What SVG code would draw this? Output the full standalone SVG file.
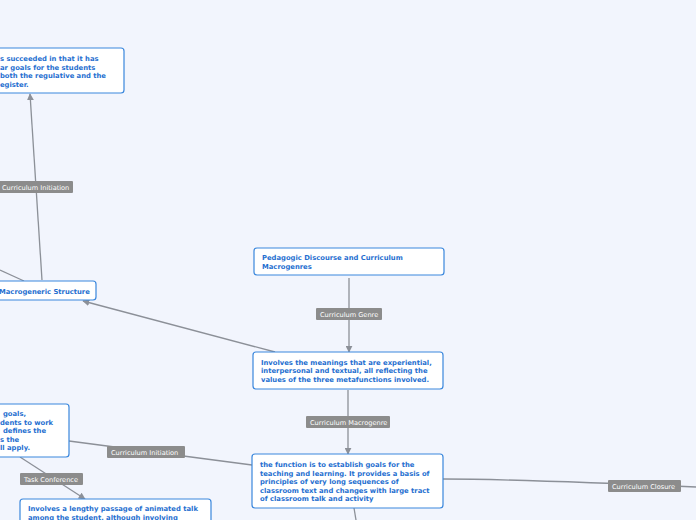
<svg xmlns="http://www.w3.org/2000/svg" width="696" height="520" viewBox="0 0 696 520">
<style>
.bg{fill:#f2f5fd}
.node rect{fill:#ffffff;stroke:#3a87dd;stroke-width:1.2}
.node text{font-family:"DejaVu Sans",Verdana,sans-serif;font-weight:bold;font-size:6.8px;fill:#1f6fd0}
.edge{fill:none;stroke:#8c9098;stroke-width:1.3}
.lbl rect{fill:#8c8c8c}
.lbl text{font-family:"DejaVu Sans",Verdana,sans-serif;font-size:6.6px;fill:#ffffff}
</style>
<defs>
<marker id="arr" viewBox="0 0 10 10" refX="9" refY="5" markerWidth="7" markerHeight="7" orient="auto" markerUnits="userSpaceOnUse">
<path d="M0,0 L10,5 L0,10 z" fill="#8c9098"/>
</marker>
</defs>
<rect class="bg" x="0" y="0" width="696" height="520"/>
<g id="connectors">
<path class="edge" d="M42,280 L30,94" marker-end="url(#arr)"/>
<path class="edge" d="M0,270 L24,281"/>
<path class="edge" d="M275,352 L83,301" marker-end="url(#arr)"/>
<path class="edge" d="M349,278 L349,352" marker-end="url(#arr)"/>
<path class="edge" d="M348,390 L348,454" marker-end="url(#arr)"/>
<path class="edge" d="M252,465 L69,441"/>
<path class="edge" d="M443,479 C500,479 560,481 696,487"/>
<path class="edge" d="M20,457 L85,499" marker-end="url(#arr)"/>
<path class="edge" d="M354,508 L356,520"/>
<g class="lbl"><rect x="-4" y="181" width="77" height="12" rx="1"/><text x="2" y="190">Curriculum Initiation</text></g>
<g class="lbl"><rect x="316" y="308" width="66" height="12" rx="1"/><text x="320" y="317">Curriculum Genre</text></g>
<g class="lbl"><rect x="306" y="416" width="84" height="12" rx="1"/><text x="310" y="425">Curriculum Macrogenre</text></g>
<g class="lbl"><rect x="107" y="446" width="78" height="12" rx="1"/><text x="111" y="455">Curriculum Initiation</text></g>
<g class="lbl"><rect x="20" y="473" width="63" height="12" rx="1"/><text x="24" y="482">Task Conference</text></g>
<g class="lbl"><rect x="608" y="480" width="73" height="12" rx="1"/><text x="612" y="489">Curriculum Closure</text></g>
</g>
<g id="node-top" class="node">
<rect x="-20" y="48" width="144" height="45" rx="3"/>
<text x="0" y="61">s succeeded in that it has</text>
<text x="0" y="69.5">ar goals for the students</text>
<text x="0" y="78">both the regulative and the</text>
<text x="0" y="86.5">egister.</text>
</g>
<g id="node-macro" class="node">
<rect x="-20" y="281" width="116" height="19" rx="3"/>
<text x="-1" y="294">Macrogeneric Structure</text>
</g>
<g id="node-pedagogic" class="node">
<rect x="254" y="248" width="190" height="27" rx="3"/>
<text x="262" y="260">Pedagogic Discourse and Curriculum</text>
<text x="262" y="269">Macrogenres</text>
</g>
<g id="node-meanings" class="node">
<rect x="253" y="352" width="190" height="37" rx="3"/>
<text x="261" y="364.5">Involves the meanings that are experiential,</text>
<text x="261" y="373">interpersonal and textual, all reflecting the</text>
<text x="261" y="381.5">values of the three metafunctions involved.</text>
</g>
<g id="node-function" class="node">
<rect x="252" y="454" width="191" height="54" rx="3"/>
<text x="260" y="467">the function is to establish goals for the</text>
<text x="260" y="475.5">teaching and learning. It provides a basis of</text>
<text x="260" y="484">principles of very long sequences of</text>
<text x="260" y="492.5">classroom text and changes with large tract</text>
<text x="260" y="501">of classroom talk and activity</text>
</g>
<g id="node-left" class="node">
<rect x="-20" y="404" width="89" height="53" rx="3"/>
<text x="3" y="416">goals,</text>
<text x="0" y="424.5">dents to work</text>
<text x="3" y="433">defines the</text>
<text x="0" y="441.5">s the</text>
<text x="0" y="450">ll apply.</text>
</g>
<g id="node-bottom" class="node">
<rect x="20" y="499" width="191" height="30" rx="3"/>
<text x="28" y="511">Involves a lengthy passage of animated talk</text>
<text x="28" y="519.5">among the student, although involving</text>
</g>
</svg>
